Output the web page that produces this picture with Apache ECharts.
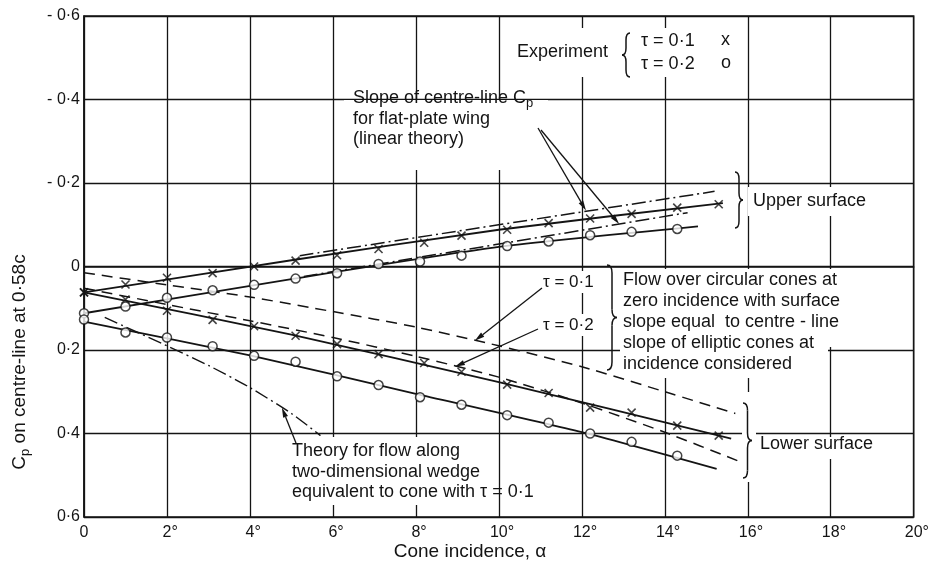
<!DOCTYPE html>
<html>
<head>
<meta charset="utf-8">
<script src="https://cdn.jsdelivr.net/npm/echarts@6/dist/echarts.min.js"></script>
<style>
html,body{margin:0;padding:0;background:#fff}
#chart{width:932px;height:565px}
</style>
</head>
<body>
<div id="chart"></div>
<script>
// Cone incidence (degrees) of the measured points
const alphaT1 = [0, 1.0, 2.0, 3.1, 4.1, 5.1, 6.1, 7.1, 8.2, 9.1, 10.2, 11.2, 12.2, 13.2, 14.3, 15.3];
const alphaT2 = [0, 1.0, 2.0, 3.1, 4.1, 5.1, 6.1, 7.1, 8.1, 9.1, 10.2, 11.2, 12.2, 13.2, 14.3];

// Measured centre-line Cp at 0.58c, tau = 0.1 (x) and tau = 0.2 (o)
const upperT1 = [0.062, 0.043, 0.027, 0.016, 0.000, -0.014, -0.027, -0.042, -0.057, -0.074, -0.088, -0.104, -0.115, -0.126, -0.141, -0.149];
const lowerT1 = [0.062, 0.079, 0.106, 0.128, 0.143, 0.166, 0.186, 0.210, 0.231, 0.252, 0.283, 0.303, 0.338, 0.350, 0.381, 0.405];
const upperT2 = [0.112, 0.096, 0.075, 0.057, 0.044, 0.029, 0.016, -0.006, -0.012, -0.026, -0.049, -0.060, -0.075, -0.083, -0.090];
const lowerT2 = [0.127, 0.158, 0.170, 0.191, 0.214, 0.228, 0.263, 0.284, 0.313, 0.331, 0.356, 0.374, 0.400, 0.420, 0.453];

// Faired curves through the experiments
const fairUpperT1Alpha = [0, 5, 10, 15.4];
const fairUpperT1Cp    = [0.062, -0.015, -0.088, -0.152];
const fairUpperT2Alpha = [0, 5, 10, 14.8];
const fairUpperT2Cp    = [0.112, 0.030, -0.047, -0.096];
const fairLowerT1Alpha = [0, 5, 10, 15.6];
const fairLowerT1Cp    = [0.062, 0.163, 0.277, 0.412];
const fairLowerT2Alpha = [0, 4, 8, 12, 15.25];
const fairLowerT2Cp    = [0.132, 0.213, 0.305, 0.397, 0.485];

// Slope of centre-line Cp for flat-plate wing (linear theory)
const slopeAAlpha = [5.2, 15.2];
const slopeACp    = [-0.026, -0.180];
const slopeBAlpha = [5.3, 14.55];
const slopeBCp    = [0.024, -0.129];

// Circular cones at zero incidence, equivalent surface slope
const coneT1Alpha = [0, 2, 4, 6, 8, 10, 12, 14, 15.7];
const coneT1Cp    = [0.015, 0.044, 0.073, 0.108, 0.145, 0.190, 0.240, 0.300, 0.352];
const coneT2Alpha = [0, 2, 4, 6, 8, 10, 12, 14, 15.75];
const coneT2Cp    = [0.052, 0.091, 0.130, 0.170, 0.215, 0.265, 0.327, 0.397, 0.465];

// Two-dimensional wedge theory, tau = 0.1
const wedgeAlpha = [0.5, 2, 3, 4, 5, 5.7];
const wedgeCp    = [0.122, 0.190, 0.237, 0.290, 0.352, 0.405];

// Axis ticks
const yTicks = [-0.6, -0.4, -0.2, 0, 0.2, 0.4, 0.6];
const xTicks = [0, 2, 4, 6, 8, 10, 12, 14, 16, 18, 20];

const FONT = '"Liberation Sans", "DejaVu Sans", sans-serif';
const INK = '#141414';
const NOTE = 18;

function zip(a, b) { return a.map((v, i) => [v, b[i]]); }
function fmtNum(v) { return Math.abs(v).toFixed(1).replace('.', '\u00b7'); }

const chart = echarts.init(document.getElementById('chart'), null, { renderer: 'canvas' });

function curve(name, ax, cp, dash, width) {
  return {
    name, type: 'line', data: zip(ax, cp), symbol: 'none', smooth: 0.2, silent: true,
    lineStyle: { color: INK, width: width || 1.8, type: dash || 'solid' }, z: 3
  };
}
function points(name, ax, cp, kind) {
  const cross = kind === 'x';
  return {
    name, type: 'scatter', data: zip(ax, cp), silent: true, z: 5,
    symbol: cross ? 'path://M0,0L10,10M10,0L0,10' : 'circle',
    symbolSize: cross ? [8, 8] : 9,
    itemStyle: cross
      ? { color: 'rgba(0,0,0,0)', borderColor: INK, borderWidth: 1.6 }
      : { color: '#fff', borderColor: INK, borderWidth: 1.5 }
  };
}

const DASHED = [11, 7];
const DASHDOT = [14, 4, 2, 4];

chart.setOption({
  animation: false,
  backgroundColor: '#fff',
  grid: { left: 84, right: 18, top: 16, bottom: 48, show: true, borderColor: INK, borderWidth: 1.5, backgroundColor: 'transparent' },
  xAxis: {
    type: 'value', min: 0, max: 20, interval: 2,
    axisLine: { show: true, lineStyle: { color: INK, width: 1.5 } },
    axisTick: { show: false },
    splitLine: { show: true, lineStyle: { color: INK, width: 1.3 } },
    axisLabel: {
      margin: 8, color: INK, fontFamily: FONT, fontSize: 16,
      formatter: v => (xTicks.indexOf(v) < 0 ? '' : (v === 0 ? '0' : '{g|\u00b0}' + v + '\u00b0')),
      rich: { g: { color: 'rgba(0,0,0,0)', fontSize: 16, fontFamily: FONT } }
    }
  },
  yAxis: {
    type: 'value', inverse: true, min: -0.6, max: 0.6, interval: 0.2,
    axisLine: { show: true, lineStyle: { color: INK, width: 1.5 } },
    axisTick: { show: false },
    splitLine: { show: true, lineStyle: { color: INK, width: 1.3 } },
    axisLabel: {
      margin: 4, color: INK, fontFamily: FONT, fontSize: 16,
      formatter: v => {
        if (Math.abs(v) < 1e-9) return '0';
        return (v < 0 ? '- ' : '') + fmtNum(v);
      }
    }
  },
  series: [
    curve('Upper surface, \u03c4 = 0.1', fairUpperT1Alpha, fairUpperT1Cp),
    curve('Upper surface, \u03c4 = 0.2', fairUpperT2Alpha, fairUpperT2Cp),
    curve('Lower surface, \u03c4 = 0.1', fairLowerT1Alpha, fairLowerT1Cp),
    curve('Lower surface, \u03c4 = 0.2', fairLowerT2Alpha, fairLowerT2Cp),
    curve('Linear theory slope A', slopeAAlpha, slopeACp, DASHDOT, 1.5),
    curve('Linear theory slope B', slopeBAlpha, slopeBCp, DASHDOT, 1.5),
    curve('Circular cone, \u03c4 = 0.1', coneT1Alpha, coneT1Cp, DASHED, 1.5),
    curve('Circular cone, \u03c4 = 0.2', coneT2Alpha, coneT2Cp, DASHED, 1.5),
    curve('Two-dimensional wedge', wedgeAlpha, wedgeCp, DASHDOT, 1.4),
    points('Experiment upper \u03c4 = 0.1', alphaT1, upperT1, 'x'),
    points('Experiment lower \u03c4 = 0.1', alphaT1, lowerT1, 'x'),
    points('Experiment upper \u03c4 = 0.2', alphaT2, upperT2, 'o'),
    points('Experiment lower \u03c4 = 0.2', alphaT2, lowerT2, 'o')
  ]
});

// ---- annotations ----
const px = (a, c) => chart.convertToPixel({ gridIndex: 0 }, [a, c]);

function box(x, y, w, h) {
  return { type: 'rect', z: 1, silent: true, shape: { x, y, width: w, height: h }, style: { fill: '#fff' } };
}
function text(x, y, str, opts) {
  return {
    type: 'text', z: 10, silent: true,
    style: Object.assign({
      x, y, text: str, fill: INK, font: NOTE + 'px ' + FONT,
      textAlign: 'left', textVerticalAlign: 'middle'
    }, opts || {})
  };
}
function arrow(x1, y1, tip) {
  const x2 = tip[0], y2 = tip[1];
  const ang = Math.atan2(y2 - y1, x2 - x1);
  const L = 10, W = 2.6;
  const bx = x2 - L * Math.cos(ang), by = y2 - L * Math.sin(ang);
  const nx = -Math.sin(ang), ny = Math.cos(ang);
  return [
    { type: 'line', z: 10, silent: true, shape: { x1, y1, x2: bx, y2: by }, style: { stroke: INK, lineWidth: 1.3 } },
    { type: 'polygon', z: 10, silent: true, shape: { points: [[x2, y2], [bx + nx * W, by + ny * W], [bx - nx * W, by - ny * W]] }, style: { fill: INK } }
  ];
}
// curly brace built from quadratic curves and straight runs;
// dir = 1 points right ("}"), dir = -1 points left ("{")
function brace(x, y1, y2, w, dir) {
  const s = x + dir * w / 2, t = x + dir * w, m = (y1 + y2) / 2, r = Math.min(w / 2 + 3, (y2 - y1) / 4);
  const st = { stroke: INK, lineWidth: 1.5, fill: 'none' };
  const q = (ax, ay, cx, cy, bx, by) => ({ type: 'bezierCurve', z: 10, silent: true,
    shape: { x1: ax, y1: ay, cpx1: cx, cpy1: cy, x2: bx, y2: by }, style: st });
  const l = (ax, ay, bx, by) => ({ type: 'line', z: 10, silent: true,
    shape: { x1: ax, y1: ay, x2: bx, y2: by }, style: st });
  return [
    q(x, y1, s, y1, s, y1 + r),
    l(s, y1 + r, s, m - r),
    q(s, m - r, s, m, t, m),
    q(t, m, s, m, s, m + r),
    l(s, m + r, s, y2 - r),
    q(s, y2 - r, s, y2, x, y2)
  ];
}

const sub = { fontSize: 13, fontFamily: FONT, verticalAlign: 'bottom', padding: [10, 0, 0, 0], fill: INK };
const big = { fontSize: NOTE, fontFamily: FONT, fill: INK };

const g = [];
// white panels behind the lettering
g.push(box(506, 28, 232, 49));
g.push(box(344, 100, 204, 70));
g.push(box(748, 187, 132, 29));
g.push(box(539, 271, 62, 22));
g.push(box(539, 314, 64, 22));
g.push(box(620, 269, 216, 78));
g.push(box(620, 347, 208, 31));
g.push(box(742, 392, 14, 90));
g.push(box(756, 437, 116, 22));
g.push(box(288, 437, 208, 68));

// experiment key
g.push(text(517, 52, 'Experiment'));
g.push(...brace(630, 33, 77, 8, -1));
g.push(text(641, 41, '\u03c4 = 0\u00b71'));
g.push(text(641, 64, '\u03c4 = 0\u00b72'));
g.push(text(721, 40, 'x'));
g.push(text(721, 63, 'o'));

// linear theory note
g.push(text(353, 118, '{n|Slope of centre-line C}{s|p}\n{n|for flat-plate wing}\n{n|(linear theory)}',
  { rich: { n: Object.assign({ lineHeight: 20 }, big), s: sub } }));
g.push(...arrow(538, 128, px(12.1, -0.134)));
g.push(...arrow(541, 130, px(12.9, -0.102)));

// surfaces
g.push(...brace(735, 172, 228, 8, 1));
g.push(text(753, 201, 'Upper surface'));
g.push(...brace(743, 403, 478, 9, 1));
g.push(text(760, 444, 'Lower surface'));

// circular cone theory note
g.push(text(543, 282, '\u03c4 = 0\u00b71', { font: '17px ' + FONT }));
g.push(text(543, 325, '\u03c4 = 0\u00b72', { font: '17px ' + FONT }));
g.push(...arrow(542, 288, px(9.42, 0.178)));
g.push(...arrow(538, 329, px(8.94, 0.240)));
g.push(...brace(607, 265, 370, 10, 1));
g.push(text(623, 270, 'Flow over circular cones at\nzero incidence with surface\nslope equal  to centre - line\nslope of elliptic cones at\nincidence considered',
  { textVerticalAlign: 'top', lineHeight: 21 }));

// wedge theory note
g.push(text(292, 441, 'Theory for flow along\ntwo-dimensional wedge\nequivalent to cone with \u03c4 = 0\u00b71',
  { textVerticalAlign: 'top', lineHeight: 20.5 }));
g.push(...arrow(296, 443, px(4.77, 0.338)));

// axis titles
g.push({
  type: 'text', z: 10, silent: true, x: 20, y: 362, rotation: Math.PI / 2,
  style: {
    text: '{n|C}{s|p}{n| on centre-line at 0\u00b758c}', textAlign: 'center', textVerticalAlign: 'middle',
    rich: { n: { fontSize: 19, fontFamily: FONT, fill: INK }, s: sub }
  }
});
g.push(text(470, 552, 'Cone incidence, \u03b1', { textAlign: 'center', font: '19px ' + FONT }));

chart.setOption({ graphic: { elements: g } });
</script>
</body>
</html>
